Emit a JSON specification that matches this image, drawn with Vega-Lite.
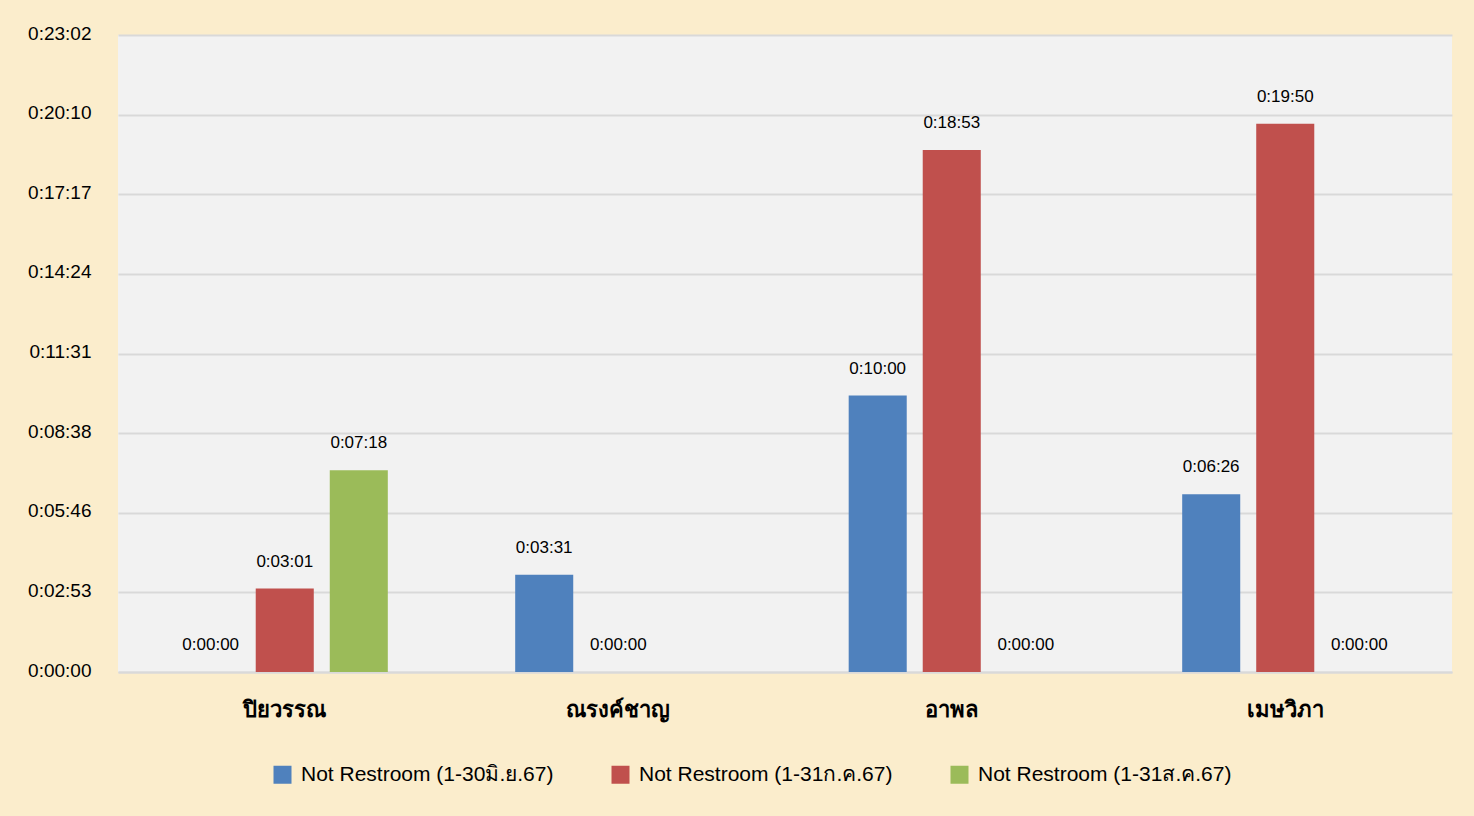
{
  "$schema": "https://vega.github.io/schema/vega-lite/v6.json",
  "width": 1334,
  "height": 637,
  "autosize": {"type": "none"},
  "padding": {"left": 118, "top": 35, "right": 22, "bottom": 144},
  "background": "#fbedcc",
  "config": {
    "font": "Liberation Sans",
    "view": {"fill": "#f2f2f2", "stroke": null}
  },
  "data": {
    "values": [
      {"name": "ปิยวรรณ", "series": "Not Restroom (1-30มิ.ย.67)", "seconds": 0, "time": "0:00:00"},
      {"name": "ปิยวรรณ", "series": "Not Restroom (1-31ก.ค.67)", "seconds": 181, "time": "0:03:01"},
      {"name": "ปิยวรรณ", "series": "Not Restroom (1-31ส.ค.67)", "seconds": 438, "time": "0:07:18"},
      {"name": "ณรงค์ชาญ", "series": "Not Restroom (1-30มิ.ย.67)", "seconds": 211, "time": "0:03:31"},
      {"name": "ณรงค์ชาญ", "series": "Not Restroom (1-31ก.ค.67)", "seconds": 0, "time": "0:00:00"},
      {"name": "อาพล", "series": "Not Restroom (1-30มิ.ย.67)", "seconds": 600, "time": "0:10:00"},
      {"name": "อาพล", "series": "Not Restroom (1-31ก.ค.67)", "seconds": 1133, "time": "0:18:53"},
      {"name": "อาพล", "series": "Not Restroom (1-31ส.ค.67)", "seconds": 0, "time": "0:00:00"},
      {"name": "เมษวิภา", "series": "Not Restroom (1-30มิ.ย.67)", "seconds": 386, "time": "0:06:26"},
      {"name": "เมษวิภา", "series": "Not Restroom (1-31ก.ค.67)", "seconds": 1190, "time": "0:19:50"},
      {"name": "เมษวิภา", "series": "Not Restroom (1-31ส.ค.67)", "seconds": 0, "time": "0:00:00"}
    ]
  },
  "encoding": {
    "x": {
      "field": "name",
      "type": "nominal",
      "sort": ["ปิยวรรณ", "ณรงค์ชาญ", "อาพล", "เมษวิภา"],
      "scale": {"paddingInner": 0.334, "paddingOuter": 0.167},
      "axis": {
        "title": null,
        "labelAngle": 0,
        "labelFontSize": 22,
        "labelFontWeight": "bold",
        "labelColor": "#000000",
        "labelPadding": 27,
        "ticks": false,
        "domain": true,
        "domainColor": "#d9d9d9",
        "domainWidth": 2
      }
    },
    "xOffset": {
      "field": "series",
      "type": "nominal",
      "sort": ["Not Restroom (1-30มิ.ย.67)", "Not Restroom (1-31ก.ค.67)", "Not Restroom (1-31ส.ค.67)"],
      "scale": {"paddingInner": 0.216, "paddingOuter": 0.108}
    },
    "y": {
      "field": "seconds",
      "type": "quantitative",
      "scale": {"domain": [0, 1382.4], "nice": false},
      "axis": {
        "title": null,
        "values": [0, 172.8, 345.6, 518.4, 691.2, 864, 1036.8, 1209.6, 1382.4],
        "labelExpr": "floor(round(datum.value)/3600) + ':' + (floor(round(datum.value)/60)%60 < 10 ? '0' : '') + (floor(round(datum.value)/60)%60) + ':' + (round(datum.value)%60 < 10 ? '0' : '') + (round(datum.value)%60)",
        "labelFontSize": 19,
        "labelColor": "#000000",
        "labelPadding": 27,
        "labelOffset": -2,
        "ticks": false,
        "domain": false,
        "grid": true,
        "gridColor": "#d9d9d9",
        "gridWidth": 2
      }
    }
  },
  "layer": [
    {
      "mark": {"type": "bar"},
      "encoding": {
        "color": {
          "field": "series",
          "type": "nominal",
          "sort": ["Not Restroom (1-30มิ.ย.67)", "Not Restroom (1-31ก.ค.67)", "Not Restroom (1-31ส.ค.67)"],
          "scale": {"range": ["#4f81bd", "#c0504d", "#9bbb59"]},
          "legend": {
            "title": null,
            "orient": "none",
            "direction": "horizontal",
            "legendX": 154,
            "legendY": 729,
            "symbolType": "square",
            "symbolSize": 324,
            "symbolStrokeWidth": 0,
            "labelFontSize": 21,
            "labelLimit": 0,
            "labelColor": "#000000",
            "labelOffset": 8,
            "columnPadding": 56
          }
        }
      }
    },
    {
      "mark": {"type": "text", "baseline": "middle", "dy": -27, "fontSize": 17, "color": "#000000"},
      "encoding": {"text": {"field": "time"}}
    }
  ]
}
